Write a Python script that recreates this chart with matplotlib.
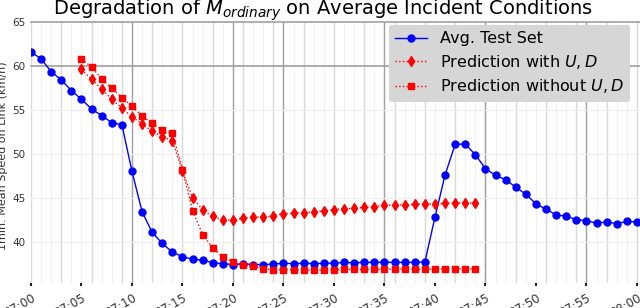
# -*- coding: utf-8 -*-

#Loading dependencies
import matplotlib
matplotlib.use('Agg')
import matplotlib.pyplot as plt
import numpy as np

#Data (minutes after 07:00, 1min mean speed in km/h)
avg_minutes = np.arange(0, 61)
avg_speed = [61.6, 60.8, 59.35, 58.4, 57.2, 56.2, 55.1, 54.35, 53.55, 53.3,
             48.0, 43.4, 41.05, 39.8, 38.8, 38.3, 38.0, 37.9, 37.6, 37.5,
             37.4, 37.5, 37.4, 37.4, 37.45, 37.55, 37.5, 37.55, 37.5, 37.55,
             37.55, 37.65, 37.6, 37.65, 37.65, 37.65, 37.65, 37.65, 37.65, 37.7,
             42.8, 47.6, 51.1, 51.1, 49.9, 48.3, 47.55, 47.05, 46.2, 45.4,
             44.3, 43.7, 43.05, 42.9, 42.5, 42.4, 42.1, 42.25, 42.05, 42.3,
             42.25]

pred_minutes = np.arange(5, 45)
pred_with_ud = [59.6, 58.5, 57.35, 56.2, 55.2, 54.2, 53.4, 52.55, 51.95, 51.5,
                48.0, 45.0, 43.6, 42.9, 42.45, 42.45, 42.7, 42.8, 42.8, 42.95,
                43.2, 43.25, 43.3, 43.4, 43.5, 43.65, 43.75, 43.8, 43.9, 44.0,
                44.15, 44.15, 44.2, 44.25, 44.3, 44.3, 44.35, 44.4, 44.4, 44.4]
pred_without_ud = [60.75, 59.9, 58.5, 57.45, 56.4, 55.4, 54.3, 53.5, 52.7, 52.35,
                   48.2, 43.5, 40.8, 39.3, 38.25, 37.7, 37.4, 37.2, 36.9, 36.8,
                   36.8, 36.8, 36.75, 36.8, 36.75, 36.8, 36.85, 36.85, 36.85, 36.85,
                   36.85, 36.9, 36.9, 36.85, 36.85, 36.9, 36.9, 36.9, 36.9, 36.9]

tick_minutes = np.arange(0, 61, 5)
tick_labels = ['07:00', '07:05', '07:10', '07:15', '07:20', '07:25', '07:30',
               '07:35', '07:40', '07:45', '07:50', '07:55', '08:00']
dark_grid = [10, 20, 25, 35, 45, 55]
y_ticks = [40, 45, 50, 55, 60, 65]

fig = plt.figure(figsize=(6.4, 3.08), dpi=100)
ax = fig.add_axes([31 / 640, 25 / 308, 609 / 640, 261 / 308])

#grid: faint every minute, medium every 3 minutes, dark at a few spots
for m in range(0, 61):
    ax.axvline(m, color='#f0f0f0', lw=0.8, zorder=0)
for m in range(0, 61, 3):
    ax.axvline(m, color='#d9d9d9', lw=1.0, zorder=0)
for m in dark_grid:
    ax.axvline(m, color='#a0a0a0', lw=1.0, zorder=0)
for v in y_ticks:
    if v >= 60:
        ax.axhline(v, color='#a0a0a0', lw=1.2, zorder=0, clip_on=False)
    else:
        ax.axhline(v, color='#eeeeee', lw=0.8, zorder=0)

ax.plot(avg_minutes, avg_speed, '-o', color='blue', lw=1, ms=5,
        label='Avg. Test Set', zorder=3)
ax.plot(pred_minutes, pred_with_ud, ':d', color='red', lw=1, ms=5.5,
        label='Prediction with $U, D$', zorder=3)
ax.plot(pred_minutes, pred_without_ud, ':s', color='red', lw=1, ms=5,
        label='Prediction without $U, D$', zorder=3)

ax.set_xlim(0, (640 - 31) / 10.1)
ax.set_ylim(35.3, 65)
ax.set_xticks(tick_minutes)
ax.set_xticklabels(tick_labels, rotation=30, ha='right', rotation_mode='anchor',
                   fontsize=8.5, color='#333333')
ax.set_yticks(y_ticks)
ax.set_yticklabels([str(v) for v in y_ticks], fontsize=7.5, color='#333333')
ax.tick_params(axis='x', length=2, width=1.5, color='#222222', pad=4)
ax.tick_params(axis='y', length=0, pad=4)
for s in ax.spines.values():
    s.set_visible(False)

leg = ax.legend(loc='upper right', bbox_to_anchor=(630 / 640, 1 - 25 / 308),
                bbox_transform=fig.transFigure, fontsize=11.5, frameon=True,
                fancybox=True, borderaxespad=0, handlelength=2.0,
                labelspacing=0.4, borderpad=0.4)
leg.get_frame().set_facecolor('#d6d6d6')
leg.get_frame().set_edgecolor('none')
leg.get_frame().set_alpha(1)

fig.text(323 / 640, 1 - 15 / 308, 'Degradation of $M_{ordinary}$ on Average Incident Conditions',
         ha='center', va='baseline', fontsize=14)
fig.text(3 / 640, 152 / 308, '1min. Mean Speed on Link (km/h)', rotation=90,
         ha='center', va='center', fontsize=8, color='#333333')

fig.savefig('out.png', dpi=100)
